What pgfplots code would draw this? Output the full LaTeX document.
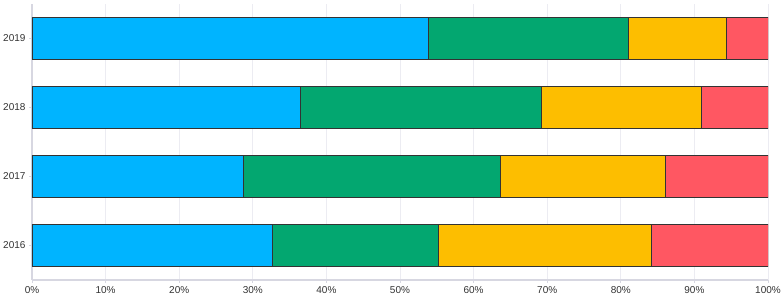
\documentclass[border=0pt]{standalone}
\usepackage{pgfplots}
\pgfplotsset{compat=1.18}
\usepackage{fontspec}
\setmainfont{Liberation Sans}
\definecolor{cblue}{RGB}{0,180,255}
\definecolor{cgreen}{RGB}{3,167,112}
\definecolor{cyellow}{RGB}{253,190,0}
\definecolor{cred}{RGB}{255,87,98}
\definecolor{gridc}{RGB}{236,236,242}
\definecolor{axc}{RGB}{215,215,225}
\definecolor{txt}{RGB}{50,50,50}
\begin{document}
\begin{tikzpicture}
\begin{axis}[
  name=ax,
  scale only axis,
  width=736pt, height=276pt,
  xbar stacked,
  bar width=42pt,
  xmin=0, xmax=100,
  ymin=-0.5, ymax=3.5,
  ytick={0,1,2,3},
  yticklabels={2016,2017,2018,2019},
  xtick={0,10,...,100},
  xticklabel={\pgfmathprintnumber{\tick}\%},
  /pgf/number format/assume math mode=true,
  tick label style={font=\fontsize{10}{12}\selectfont, text=txt},
  xmajorgrids, grid style={gridc, line width=0.8pt},
  axis line style={axc, line width=1.5pt},
  axis x line*=bottom, axis y line*=left,
  x axis line style={-}, y axis line style={-},
  major tick length=3pt,
  tick style={axc, line width=0.8pt},
  ytick pos=left, xtick pos=bottom,
  tick align=outside,
  every axis plot/.append style={draw=black!80, line width=0.8pt},
]
\addplot[fill=cblue] coordinates {(32.7,0) (28.7,1) (36.4,2) (53.9,3)};
\addplot[fill=cgreen] coordinates {(22.5,0) (35.0,1) (32.8,2) (27.1,3)};
\addplot[fill=cyellow] coordinates {(28.9,0) (22.4,1) (21.8,2) (13.4,3)};
\addplot[fill=cred] coordinates {(15.9,0) (13.9,1) (9.0,2) (5.6,3)};
\end{axis}
\pgfresetboundingbox
\path ([xshift=-32pt,yshift=-20pt]ax.south west) rectangle ([xshift=16pt,yshift=4pt]ax.north east);
\end{tikzpicture}
\end{document}
